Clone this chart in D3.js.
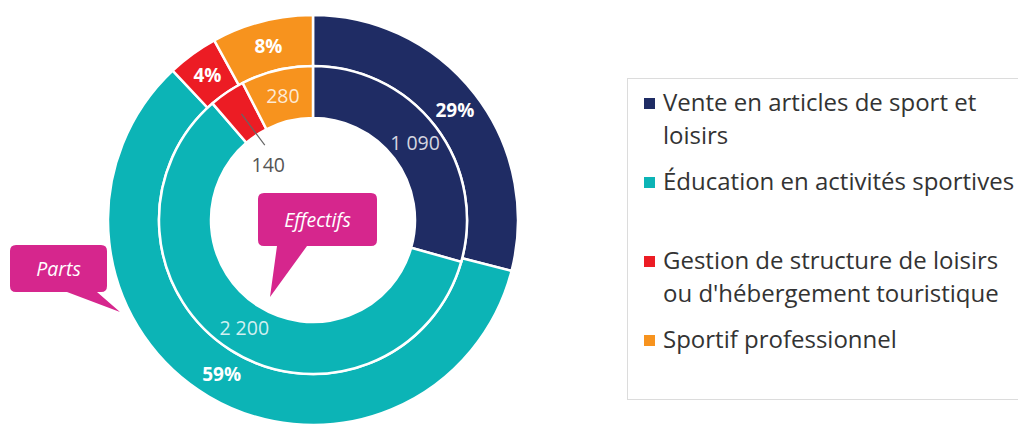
<!DOCTYPE html>
<html><head><meta charset="utf-8">
<script src="https://cdn.jsdelivr.net/npm/d3@7"></script>
<style>body{margin:0;background:#fff}svg{display:block;font-family:"Open Sans",sans-serif}</style>
</head><body><svg id="c" width="1018" height="426"></svg>
<script>
const categories = ["Vente en articles de sport et loisirs","Éducation en activités sportives","Gestion de structure de loisirs ou d'hébergement touristique","Sportif professionnel"];
const legendLines = [["Vente en articles de sport et","loisirs"],["Éducation en activités sportives",""],["Gestion de structure de loisirs","ou d'hébergement touristique"],["Sportif professionnel"]];
const shares = [29, 59, 4, 8];          // outer ring (Parts, %)
const counts = [1090, 2200, 140, 280];  // inner ring (Effectifs)
const colors = ["#1f2c64","#0cb4b6","#ec1c24","#f7931e"];
const pink = "#d6268d";

const svg = d3.select("#c");
const cx = 313, cy = 220, rOut = 205, rMid = 154, rIn = 102;
const g = svg.append("g").attr("transform",`translate(${cx},${cy})`);
const pie = d3.pie().sort(null).value(d=>d);
const outerArc = d3.arc().innerRadius(rMid).outerRadius(rOut);
const innerArc = d3.arc().innerRadius(rIn).outerRadius(rMid);
const color = d3.scaleOrdinal().domain(d3.range(categories.length)).range(colors);
const fmt = d3.formatLocale({decimal:",",thousands:"\u00a0",grouping:[3],currency:["","€"]}).format(",d");

const po = pie(shares), pi = pie(counts);
g.selectAll("path.o").data(po).join("path").attr("class","o")
 .attr("d",outerArc).attr("fill",(d,i)=>color(i)).attr("stroke","#fff").attr("stroke-width",2.5);
g.selectAll("path.i").data(pi).join("path").attr("class","i")
 .attr("d",innerArc).attr("fill",(d,i)=>color(i)).attr("stroke","#fff").attr("stroke-width",2.5);

// outer labels
g.selectAll("text.o").data(po).join("text").attr("class","o")
 .attr("transform",d=>`translate(${outerArc.centroid(d)})`)
 .attr("text-anchor","middle").attr("dy","0.36em")
 .attr("fill","#fff").attr("font-weight","bold").attr("font-size",19)
 .text(d=>d.data+"%");

// inner labels
const small = d=> (d.endAngle-d.startAngle) < 0.4;
g.selectAll("text.i").data(pi.filter(d=>!small(d))).join("text").attr("class","i")
 .attr("transform",d=>`translate(${innerArc.centroid(d)})`)
 .attr("text-anchor","middle").attr("dy","0.36em")
 .attr("fill","#fff").attr("fill-opacity",0.82).attr("font-size",19.5)
 .text(d=>fmt(d.data));
pi.filter(small).forEach(d=>{
  const a = (d.startAngle+d.endAngle)/2;
  const p = (r,da=0)=>[Math.sin(a+da)*r, -Math.cos(a+da)*r];
  const c = innerArc.centroid(d);
  const e = p(89,0.02);
  g.append("line").attr("x1",c[0]).attr("y1",c[1]).attr("x2",e[0]).attr("y2",e[1])
   .attr("stroke","#666").attr("stroke-width",1.2);
  const t = p(71,-0.09);
  g.append("text").attr("x",t[0]).attr("y",t[1]).attr("text-anchor","middle").attr("dy","0.36em")
   .attr("fill","#555").attr("font-size",19.5).text(fmt(d.data));
});

// callouts
function callout(x0,y0,x1,y1,tb0,tb1,tip,label){
  const r=6;
  const path = `M${x0+r},${y0} H${x1-r} Q${x1},${y0} ${x1},${y0+r} V${y1-r} Q${x1},${y1} ${x1-r},${y1}
   H${tb1} L${tip[0]},${tip[1]} L${tb0},${y1} H${x0+r} Q${x0},${y1} ${x0},${y1-r} V${y0+r} Q${x0},${y0} ${x0+r},${y0} Z`;
  svg.append("path").attr("d",path).attr("fill",pink);
  svg.append("text").attr("x",(x0+x1)/2).attr("y",(y0+y1)/2).attr("dy","0.36em")
   .attr("text-anchor","middle").attr("fill","#fff").attr("font-style","italic").attr("font-size",19.5)
   .text(label);
}
callout(258,193,377,246,277,307,[270,297],"Effectifs");
callout(10,245,107,292,67,97,[120,312],"Parts");

// legend
svg.append("rect").attr("x",627.5).attr("y",78.5).attr("width",420).attr("height",321)
 .attr("fill","#fff").attr("stroke","#dcdcdc");
const lh = 33, gap = 13;
let y = 111;
legendLines.forEach((lines,i)=>{
  svg.append("rect").attr("x",644).attr("y",y-13).attr("width",11).attr("height",11).attr("fill",color(i));
  lines.forEach((ln,j)=>{
    svg.append("text").attr("x",663).attr("y",y+j*lh).attr("fill","#333").attr("font-size",24).text(ln);
  });
  y += lines.length*lh + gap;
});
</script></body></html>
